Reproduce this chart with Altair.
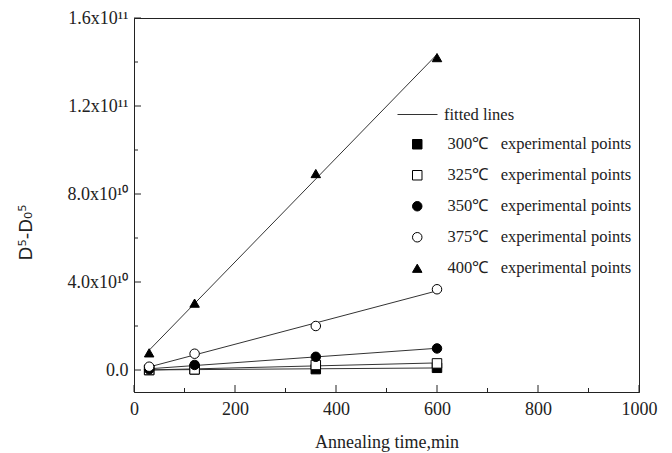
import altair as alt
import pandas as pd

# ---- data ----
times = [30, 120, 360, 600]
temps = ["300", "325", "350", "375", "400"]
v300 = [0.0, 0.3e9, 0.4e9, 1.0e9]
v325 = [0.0, 0.3e9, 2.3e9, 3.0e9]
v350 = [0.3e9, 2.3e9, 6.0e9, 9.8e9]
v375 = [1.5e9, 7.4e9, 2.0e10, 3.67e10]
v400 = [7.8e9, 3.04e10, 8.93e10, 1.42e11]
series = [v300, v325, v350, v375, v400]

shapes = ["square", "square", "circle", "circle", "triangle-up"]
fills = ["black", "white", "black", "white", "black"]

x_major = [0, 200, 400, 600, 800, 1000]
x_minor = [100, 300, 500, 700, 900]
y_major = [0, 4e10, 8e10, 1.2e11, 1.6e11]
y_major_labels = ["0.0", "4.0x10\u00b9\u2070", "8.0x10\u00b9\u2070", "1.2x10\u00b9\u00b9", "1.6x10\u00b9\u00b9"]
y_minor = [2e10, 6e10, 1e11, 1.4e11]

labels = [f"{t}\u2103\u2002 experimental points" for t in temps]

rows = []
for t, lab, vals in zip(temps, labels, series):
    for x, v in zip(times, vals):
        rows.append({"t": x, "v": v, "temp": t, "label": lab})
df = pd.DataFrame(rows)

W, H = 505, 374
SERIF = "Liberation Serif"
INK = "#222222"
MAJ, MIN = 7, 4

ylab_expr = "".join(
    f"abs(datum.value - {v}) < 1 ? '{l}' : " for v, l in zip(y_major, y_major_labels)
) + "''"

xscale = alt.Scale(domain=[0, 1000], nice=False, zero=False)
yscale = alt.Scale(domain=[-1e10, 1.6e11], nice=False, zero=False)

xax = alt.Axis(
    orient="bottom", values=x_major, ticks=False, grid=False,
    domainColor=INK, labelFont=SERIF, labelFontSize=18, labelColor=INK,
    labelPadding=8, labelFlush=False, labelExpr="datum.value + ''",
    title="Annealing time,min", titleFont=SERIF, titleFontSize=18,
    titleFontWeight="normal", titleColor=INK, titleY=50, titleBaseline="middle",
)
yax = alt.Axis(
    orient="left", values=y_major, ticks=False, grid=False,
    domainColor=INK, labelFont=SERIF, labelFontSize=18, labelColor=INK,
    labelPadding=6, labelExpr=ylab_expr, labelFlush=False,
    title="D\u2075-D\u2080\u2075", titleFont="DejaVu Sans", titleFontSize=18,
    titleFontWeight="normal", titleColor=INK, titleX=-108, titleY=214,
    titleAlign="center", titleBaseline="middle", titleAngle=270,
)

# inward ticks, positioned by the chart's own scales
def xticks(vals, ln):
    return alt.Chart(pd.DataFrame({"t": vals})).mark_rule(color=INK, strokeWidth=1).encode(
        x=alt.X("t:Q", scale=xscale, axis=xax, title="Annealing time,min"),
        y=alt.value(H), y2=alt.value(H - ln),
    )

def yticks(vals, ln):
    return alt.Chart(pd.DataFrame({"v": vals})).mark_rule(color=INK, strokeWidth=1).encode(
        y=alt.Y("v:Q", scale=yscale, axis=yax, title="D\u2075-D\u2080\u2075"),
        x=alt.value(0), x2=alt.value(ln),
    )

ticks = [xticks(x_major, MAJ), xticks(x_minor, MIN), yticks(y_major, MAJ), yticks(y_minor, MIN)]

lines = (
    alt.Chart(df)
    .transform_regression("t", "v", groupby=["temp"])
    .transform_calculate(lbl="'fitted lines'")
    .mark_line(strokeWidth=1, clip=True)
    .encode(
        x=alt.X("t:Q", scale=xscale, axis=xax, title="Annealing time,min"),
        y=alt.Y("v:Q", scale=yscale, axis=yax, title="D\u2075-D\u2080\u2075"),
        detail="temp:N",
        color=alt.Color(
            "lbl:N",
            scale=alt.Scale(range=["#333333"]),
            legend=alt.Legend(
                title=None, orient="none", legendX=263, legendY=76, padding=0,
                symbolType="stroke", symbolSize=1600, symbolStrokeWidth=1,
                labelFont=SERIF, labelFontSize=16.5, labelColor=INK, labelOffset=6,
                labelLimit=400,
            ),
        ),
    )
)

pt_legend = alt.Legend(
    title=None, orient="none", legendX=275, legendY=118, padding=0,
    rowPadding=14, symbolSize=90, symbolStrokeWidth=1,
    labelFont=SERIF, labelFontSize=16.5, labelColor=INK, labelOffset=22, labelLimit=400,
)

points = (
    alt.Chart(df)
    .mark_point(filled=True, size=90, strokeWidth=1, opacity=1)
    .encode(
        x=alt.X("t:Q", scale=xscale, axis=xax, title="Annealing time,min"),
        y=alt.Y("v:Q", scale=yscale, axis=yax, title="D\u2075-D\u2080\u2075"),
        shape=alt.Shape("label:N", scale=alt.Scale(domain=labels, range=shapes), legend=pt_legend),
        fill=alt.Fill("label:N", scale=alt.Scale(domain=labels, range=fills), legend=pt_legend),
        stroke=alt.Stroke("label:N", scale=alt.Scale(domain=labels, range=["black"] * 5), legend=pt_legend),
    )
)

chart = (
    alt.layer(*ticks, lines, points)
    .properties(
        width=W,
        height=H,
        autosize=alt.AutoSizeParams(type="none"),
        padding={"left": 134, "top": 18, "right": 33, "bottom": 61},
        background="white",
    )
    .configure_view(stroke=INK, strokeWidth=1)
)

chart.save("out.html", embed_options={"renderer": "svg", "actions": False})
